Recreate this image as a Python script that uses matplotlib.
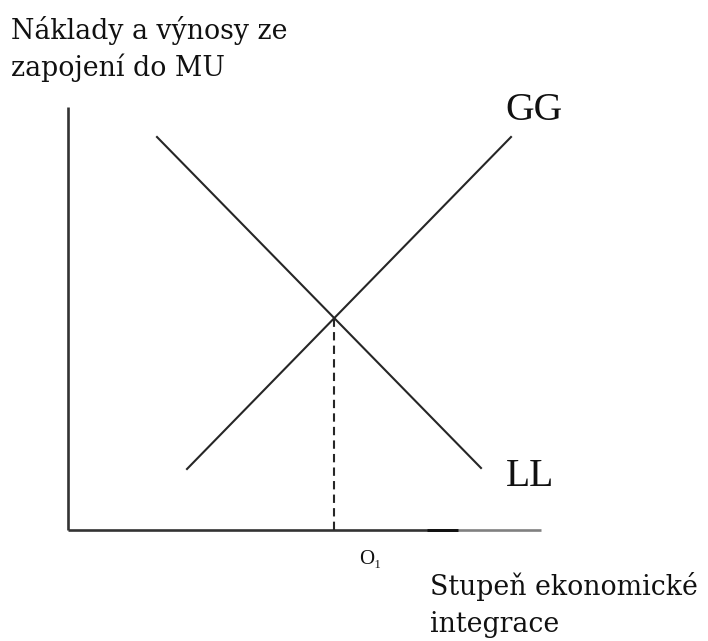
import matplotlib
matplotlib.use("Agg")
import matplotlib.pyplot as plt
import numpy as np

# Data (diagram units, origin at axes corner)
axis_x_end = 473
axis_x_dark_end = 390
axis_y_end = 423
gg_x = [119, 443]
gg_y = [61, 393]
ll_x = [89, 413]
ll_y = [393, 62]
labels = {"GG": (466, 419), "LL": (462, 54)}
y_label_lines = ["Náklady a výnosy ze", "zapojení do MU"]
x_label_lines = ["Stupeň ekonomické", "integrace"]
eq_label = "O₁"

W, H = 708, 641
fig = plt.figure(figsize=(W / 100, H / 100), dpi=100)
ax = fig.add_axes([0, 0, 1, 1])
ax.set_xlim(-68, W - 68)
ax.set_ylim(530 - H, 530)
ax.axis("off")

line_col = "#262626"
# axes
ax.plot([0, 0], [0, axis_y_end], color="#333333", lw=1.9, solid_capstyle="butt")
ax.plot([0, axis_x_dark_end], [0, 0], color="#333333", lw=1.9, solid_capstyle="butt")
ax.plot([axis_x_dark_end, axis_x_end], [0, 0], color="#808080", lw=1.9, solid_capstyle="butt")
ax.plot([359, axis_x_dark_end], [0, 0], color="#111111", lw=2.1, solid_capstyle="butt")

# curves
ax.plot(gg_x, gg_y, color=line_col, lw=1.5)
ax.plot(ll_x, ll_y, color=line_col, lw=1.5)

# intersection
m1 = (gg_y[1] - gg_y[0]) / (gg_x[1] - gg_x[0])
m2 = (ll_y[1] - ll_y[0]) / (ll_x[1] - ll_x[0])
xi = (ll_y[0] - m2 * ll_x[0] - gg_y[0] + m1 * gg_x[0]) / (m1 - m2)
yi = gg_y[0] + m1 * (xi - gg_x[0])
ax.plot([xi, xi], [0, yi], color=line_col, lw=1.5, ls=(0, (4, 2.5)))

for name, (x, y) in labels.items():
    ax.text(x, y, name, family="Liberation Serif", fontsize=28.5,
            ha="center", va="center", color="#111111")

ax.text(xi + 36, -30, eq_label, family="Liberation Serif", fontsize=15,
        ha="center", va="center", color="#111111")

for i, (txt, base) in enumerate(zip(y_label_lines, [39, 76])):
    fig.text(11 / W, 1 - base / H, txt, family="DejaVu Serif", fontsize=19.3,
             ha="left", va="baseline", color="#111111")
for i, (txt, base) in enumerate(zip(x_label_lines, [595, 632])):
    fig.text(430 / W, 1 - base / H, txt, family="DejaVu Serif", fontsize=19.3,
             ha="left", va="baseline", color="#111111")

fig.savefig("out.png", dpi=100, facecolor="white")
